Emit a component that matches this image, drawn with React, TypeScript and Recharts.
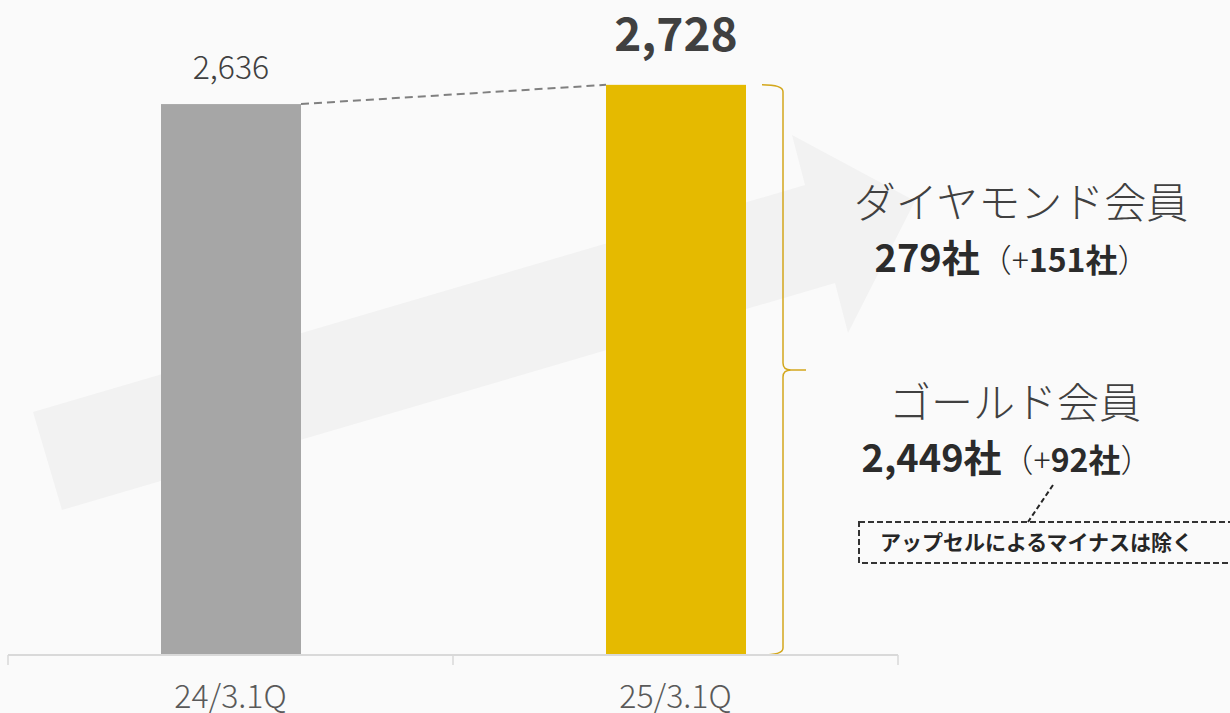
import React from "react";
import { BarChart, Bar, XAxis, YAxis, Cell, LabelList } from "recharts";

const PERIODS = ["24/3.1Q", "25/3.1Q"];
const TOTALS = [2636, 2728];
const TOTAL_LABELS = ["2,636", "2,728"];
const BAR_COLORS = ["#a6a6a6", "#e5ba00"];

const DIAMOND_LABEL = "ダイヤモンド会員";
const DIAMOND_COUNT = "279社";
const DIAMOND_DELTA = "151社";
const GOLD_LABEL = "ゴールド会員";
const GOLD_COUNT = "2,449社";
const GOLD_DELTA = "92社";
const NOTE = "アップセルによるマイナスは除く";

const W = 1230;
const H = 713;
const MARGIN = { top: 28, right: 332, left: 8, bottom: 0 };
const AXIS_H = 58;
const AXIS_Y = H - MARGIN.bottom - AXIS_H;
const BAND = (W - MARGIN.left - MARGIN.right) / PERIODS.length;
const FONT = "'Noto Sans CJK JP', 'Noto Sans', sans-serif";
const GOLD_LINE = "#d3a71c";

const data = PERIODS.map((p, i) => ({ period: p, total: TOTALS[i] }));

// background arrow, decorative only
const ARROW = "33,412 805,185 792,135 915,201 848,333 835,283 62,510";

function BarShape(props: any) {
  const { x, y, width, height, index, fill } = props;
  const base = y + height;
  let extra = null;
  if (index === 1) {
    // dashed connector from previous bar top, brace on the right
    const prevTop = base - height * (TOTALS[0] / TOTALS[1]);
    const prevRight = x + width - BAND;
    const bx0 = x + width + 16;
    const sx = x + width + 37;
    const tip = x + width + 60;
    const mid = (y + base) / 2;
    const r = 7;
    const brace = `M${bx0},${y} Q${sx},${y} ${sx},${y + r} L${sx},${mid - r} Q${sx},${mid} ${sx + 8},${mid} L${tip},${mid} M${sx + 8},${mid} Q${sx},${mid} ${sx},${mid + r} L${sx},${base - r} Q${sx},${base} ${bx0},${base}`;
    extra = (
      <g>
        <line x1={prevRight} y1={prevTop} x2={x} y2={y} stroke="#808080" strokeWidth={2} strokeDasharray="8 5" />
        <path d={brace} fill="none" stroke={GOLD_LINE} strokeWidth={1.5} />
      </g>
    );
  }
  return (
    <g>
      <rect x={x} y={y} width={width} height={height} fill={fill} />
      {extra}
    </g>
  );
}

function TopLabel(props: any) {
  const { x, y, width, index } = props;
  const cx = x + width / 2;
  if (index === 0) {
    return (
      <text x={cx} y={y - 25} textAnchor="middle" fontSize={32} fontWeight={300} fill="#404040" fontFamily={FONT}>
        {TOTAL_LABELS[0]}
      </text>
    );
  }
  return (
    <text x={cx} y={y - 34} textAnchor="middle" fontSize={46} fontWeight={700} fill="#404040" fontFamily={FONT}>
      {TOTAL_LABELS[index]}
    </text>
  );
}

function CatTick(props: any) {
  const { x, y, payload, index } = props;
  const left = x - BAND / 2;
  const right = x + BAND / 2;
  return (
    <g>
      <line x1={left} y1={AXIS_Y} x2={left} y2={AXIS_Y + 10} stroke="#d9d9d9" strokeWidth={1.5} />
      {index === PERIODS.length - 1 ? (
        <line x1={right} y1={AXIS_Y} x2={right} y2={AXIS_Y + 10} stroke="#d9d9d9" strokeWidth={1.5} />
      ) : null}
      <text x={x} y={y + 45} textAnchor="middle" fontSize={32} fontWeight={300} fill="#595959" fontFamily={FONT}>
        {payload.value}
      </text>
    </g>
  );
}

export default function App() {
  return (
    <div style={{ position: "absolute", left: 0, top: 0, width: W, height: H, background: "#fafafa", overflow: "hidden", fontFamily: FONT }}>
      <svg width={W} height={H} style={{ position: "absolute", left: 0, top: 0 }}>
        <polygon points={ARROW} fill="#f2f2f2" />
      </svg>
      <div style={{ position: "absolute", left: 0, top: 0 }}>
        <BarChart width={W} height={H} data={data} margin={MARGIN}>
          <YAxis hide domain={[0, 3000]} width={0} />
          <XAxis
            dataKey="period"
            height={AXIS_H}
            interval={0}
            axisLine={{ stroke: "#d9d9d9", strokeWidth: 2 }}
            tickLine={false}
            tick={<CatTick />}
          />
          <Bar dataKey="total" barSize={140} isAnimationActive={false} shape={<BarShape />}>
            {data.map((_, i) => (
              <Cell key={i} fill={BAR_COLORS[i]} />
            ))}
            <LabelList dataKey="total" content={<TopLabel />} />
          </Bar>
        </BarChart>
      </div>
      <svg width={W} height={H} style={{ position: "absolute", left: 0, top: 0, pointerEvents: "none" }} fontFamily={FONT}>
        <text x={1021} y={218} textAnchor="middle" fontSize={42} fontWeight={300} fill="#404040">
          {DIAMOND_LABEL}
        </text>
        <text x={1012} y={272} textAnchor="middle" fill="#2b2b2b">
          <tspan fontSize={38} fontWeight={700}>{DIAMOND_COUNT}</tspan>
          <tspan fontSize={32} fontWeight={300}>（+</tspan>
          <tspan fontSize={32} fontWeight={700}>{DIAMOND_DELTA}</tspan>
          <tspan fontSize={32} fontWeight={300}>）</tspan>
        </text>
        <text x={1015} y={418} textAnchor="middle" fontSize={42} fontWeight={300} fill="#404040">
          {GOLD_LABEL}
        </text>
        <text x={1007} y={472} textAnchor="middle" fill="#2b2b2b">
          <tspan fontSize={38} fontWeight={700}>{GOLD_COUNT}</tspan>
          <tspan fontSize={32} fontWeight={300}>（+</tspan>
          <tspan fontSize={32} fontWeight={700}>{GOLD_DELTA}</tspan>
          <tspan fontSize={32} fontWeight={300}>）</tspan>
        </text>
        <line x1={1053} y1={485} x2={1028} y2={522} stroke="#262626" strokeWidth={2} strokeDasharray="5 3" />
        <rect x={859} y={522} width={380} height={41} fill="none" stroke="#333" strokeWidth={2} strokeDasharray="6 3" />
        <text x={880} y={550} fontSize={21} fontWeight={700} fill="#262626">
          {NOTE}
        </text>
      </svg>
    </div>
  );
}
